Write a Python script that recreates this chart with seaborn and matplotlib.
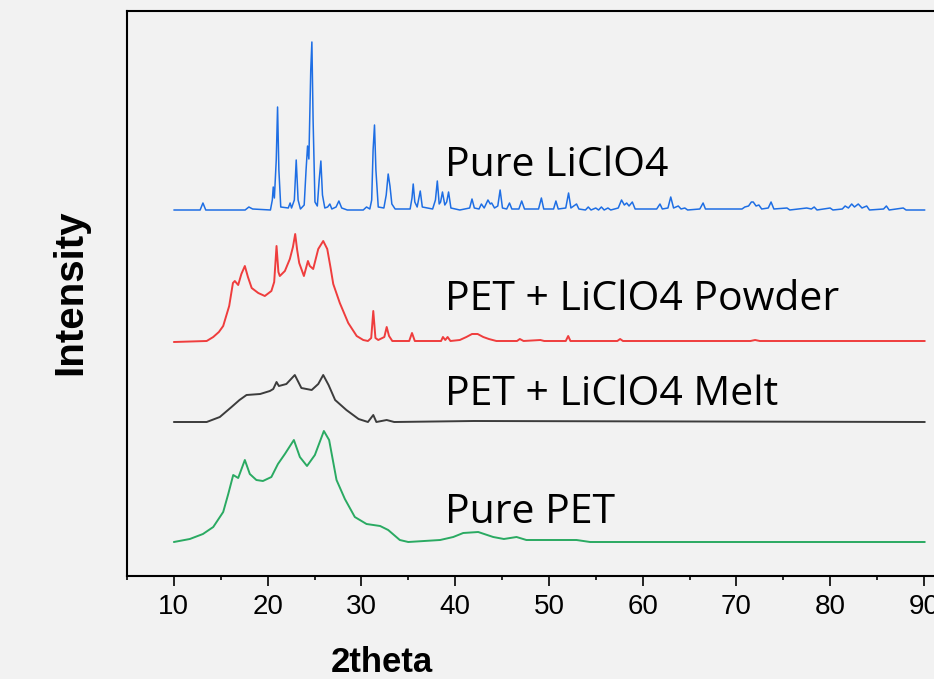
"""
plot.py - stacked XRD patterns (PET / LiClO4), offset traces.
"""

import matplotlib
matplotlib.use("Agg")
import matplotlib.pyplot as plt
import seaborn as sns
import pandas as pd

# ── Data (2theta, intensity above each trace's own baseline, a.u.) ───────────

LICLO4 = [
    (10.0, 0), (12.8, 0), (13.1, 7), (13.4, 0), (17.6, 0), (18.0, 3), (18.4, 1),
    (20.3, 0), (20.5, 10), (20.6, 23), (20.72, 12), (20.92, 50), (21.06, 103),
    (21.2, 40), (21.4, 3), (22.2, 2), (22.4, 7), (22.55, 2), (22.85, 10),
    (23.05, 50), (23.25, 10), (23.5, 1), (23.9, 5), (24.1, 40), (24.26, 64),
    (24.4, 51), (24.6, 140), (24.72, 168), (24.85, 90), (25.05, 8), (25.3, 4),
    (25.5, 30), (25.68, 49), (25.85, 15), (26.1, 2), (26.4, 3), (26.64, 6),
    (26.85, 1), (27.3, 3), (27.6, 9), (27.9, 2), (28.5, 0), (30.2, 0),
    (30.55, 3), (30.9, 1), (31.1, 10), (31.25, 60), (31.4, 85), (31.55, 40),
    (31.8, 3), (32.4, 2), (32.65, 15), (32.86, 36), (33.05, 24), (33.25, 6),
    (33.6, 1), (35.2, 1), (35.4, 12), (35.53, 26), (35.7, 8), (35.95, 3),
    (36.28, 19), (36.5, 3), (37.6, 1), (37.9, 10), (38.1, 29), (38.3, 6),
    (38.45, 8), (38.65, 18), (38.9, 5), (39.1, 8), (39.3, 18), (39.55, 2),
    (40.5, 0), (41.55, 2), (41.8, 11), (42.05, 2), (42.55, 1), (42.8, 6),
    (43.1, 2), (43.5, 10), (43.75, 6), (43.9, 7), (44.2, 2), (44.55, 4),
    (44.8, 20), (45.05, 2), (45.5, 1), (45.8, 7), (46.05, 1), (46.8, 1),
    (47.1, 9), (47.4, 1), (48.9, 1), (49.2, 12), (49.45, 1), (50.5, 1),
    (50.75, 9), (51.0, 1), (51.8, 2), (52.1, 17), (52.35, 2), (52.95, 6),
    (53.2, 1), (53.9, 0), (54.2, 3), (54.5, 0), (55.0, 2), (55.3, 0),
    (55.6, 3), (55.9, 0), (56.3, 2), (56.6, 0), (57.4, 2), (57.75, 10),
    (58.05, 5), (58.3, 7), (58.55, 4), (58.9, 8), (59.2, 1), (61.5, 1),
    (61.85, 6), (62.1, 1), (62.7, 2), (63.0, 13), (63.3, 2), (63.8, 4),
    (64.1, 1), (64.5, 2), (64.8, 0), (66.1, 1), (66.45, 7), (66.7, 1),
    (70.6, 1), (70.9, 3), (71.3, 4), (71.6, 8), (71.8, 8), (72.1, 4),
    (72.4, 5), (72.7, 1), (73.4, 2), (73.7, 8), (74.0, 1), (75.4, 2),
    (75.7, 0), (77.5, 2), (78.0, 1), (78.3, 3), (78.6, 0), (80.0, 2),
    (80.3, 0), (81.3, 1), (81.6, 4), (81.95, 2), (82.3, 6), (82.6, 3),
    (83.0, 6), (83.4, 2), (83.9, 4), (84.2, 0), (85.7, 1), (86.0, 4),
    (86.3, 0), (87.8, 2), (88.1, 0), (90.1, 0),
]

PET_POWDER = [
    (10.0, 0), (13.5, 1), (14.2, 5), (14.8, 10), (15.26, 16), (15.9, 36),
    (16.3, 59), (16.5, 61), (16.86, 57), (17.2, 68), (17.57, 76), (17.9, 65),
    (18.3, 54), (19.0, 49), (19.7, 46), (20.4, 51), (20.7, 60), (20.95, 96),
    (21.15, 70), (21.3, 66), (21.84, 71), (22.37, 83), (22.7, 95),
    (22.94, 108), (23.15, 92), (23.37, 79), (23.87, 66), (24.1, 74),
    (24.3, 81), (24.5, 76), (24.86, 73), (25.4, 93), (25.93, 101),
    (26.36, 93), (26.7, 75), (27.0, 58), (27.7, 39), (28.6, 19), (29.5, 6),
    (30.2, 2), (30.7, 1), (31.05, 4), (31.27, 31), (31.5, 4), (31.8, 2),
    (32.45, 5), (32.7, 15), (32.95, 6), (33.3, 1), (35.1, 1), (35.4, 9),
    (35.7, 1), (38.5, 1), (38.7, 5), (38.95, 2), (39.2, 5), (39.5, 1),
    (40.5, 2), (41.2, 5), (41.8, 8), (42.4, 8), (43.0, 5), (43.6, 3),
    (44.4, 1), (46.6, 1), (46.9, 3), (47.3, 1), (49.1, 2), (49.5, 1),
    (51.8, 1), (52.06, 6), (52.3, 1), (57.3, 1), (57.6, 3), (57.9, 1),
    (71.5, 1), (72.0, 2), (72.5, 1), (90.1, 1),
]

PET_MELT = [
    (10.0, 0), (13.5, 0), (14.9, 5), (16.15, 15), (17.0, 22), (17.75, 27),
    (19.2, 28), (20.24, 31), (20.6, 33), (20.95, 40), (21.2, 36), (22.0, 38),
    (22.9, 47), (23.6, 34), (24.7, 32), (25.4, 38), (25.93, 47), (26.5, 37),
    (27.2, 22), (28.4, 12), (29.7, 3), (30.7, 0), (31.27, 7), (31.6, 0),
    (32.7, 2), (33.5, 0), (42.0, 1), (90.1, 0),
]

PURE_PET = [
    (10.0, 0), (11.7, 3), (13.1, 8), (14.2, 15), (15.26, 30), (15.8, 48),
    (16.33, 67), (16.86, 64), (17.57, 82), (18.1, 68), (18.8, 62), (19.5, 61),
    (20.4, 65), (21.1, 78), (21.84, 88), (22.8, 102), (23.44, 85),
    (24.2, 76), (25.04, 87), (26.0, 111), (26.56, 102), (27.35, 62),
    (28.24, 43), (29.3, 25), (30.55, 18), (32.0, 16), (32.86, 12), (34.1, 2),
    (35.0, 0), (38.4, 2), (39.8, 5), (40.86, 9), (42.46, 10), (44.06, 5),
    (45.2, 3), (46.55, 5), (47.6, 2), (49.76, 2), (52.95, 2), (54.4, 0),
    (90.1, 0),
]

SAMPLES = ["Pure LiClO4", "PET + LiClO4 Powder", "PET + LiClO4 Melt", "Pure PET"]
TRACES = [LICLO4, PET_POWDER, PET_MELT, PURE_PET]
XTICKS = [10, 20, 30, 40, 50, 60, 70, 80, 90]

# ── Style ────────────────────────────────────────────────────────────────────

OFFSETS = [366, 234, 154, 34]          # vertical stacking of the traces
COLORS = ["#1e6ee4", "#ef3d3d", "#3c3c3c", "#2aaa62"]
WIDTHS = [1.1, 1.4, 1.4, 1.4]
LABEL_Y = [400, 266, 171, 53]
LABEL_X = 38.9
BG = "#f2f2f2"
AX_FONT = ["Liberation Sans", "DejaVu Sans"]

sns.set_style("ticks")
plt.rcParams["font.family"] = AX_FONT
plt.rcParams["text.color"] = "black"
plt.rcParams["xtick.color"] = "black"
plt.rcParams["axes.labelcolor"] = "black"

rows = []
for name, trace, off in zip(SAMPLES, TRACES, OFFSETS):
    for tt, inten in trace:
        rows.append({"sample": name, "2theta": tt, "intensity": inten + off})
df = pd.DataFrame(rows)

fig = plt.figure(figsize=(9.34, 6.79), dpi=100, facecolor=BG)
ax = fig.add_axes([127 / 934, 103 / 679, 843.75 / 934, 565 / 679])
ax.set_facecolor(BG)

for name, color, lw in zip(SAMPLES, COLORS, WIDTHS):
    sub = df[df["sample"] == name]
    sns.lineplot(data=sub, x="2theta", y="intensity", color=color,
                 linewidth=lw, estimator=None, sort=True, ax=ax)

for name, y in zip(SAMPLES, LABEL_Y):
    ax.text(LABEL_X, y, name, fontsize=29.5, family=["Open Sans", "DejaVu Sans"],
            ha="left", va="baseline", color="black")

ax.set_xlim(5, 95)
ax.set_ylim(0, 565)
ax.set_xticks(XTICKS)
ax.set_xticks([5, 15, 25, 35, 45, 55, 65, 75, 85], minor=True)
ax.set_yticks([])
ax.tick_params(axis="x", which="major", length=7, width=1.2, pad=6,
               labelsize=20, labelcolor="black", direction="out")
ax.tick_params(axis="x", which="minor", length=3, width=1.2, direction="out")
for sp in ax.spines.values():
    sp.set_linewidth(1.5)
    sp.set_color("black")
ax.set_xlabel("")
ax.set_ylabel("")

fig.text(382 / 934, 7 / 679, "2theta", fontsize=25, fontweight="bold",
         ha="center", va="baseline", color="black")
fig.text(81 / 934, (679 - 292.5) / 679, "Intensity", fontsize=29,
         fontweight="bold", rotation=90, rotation_mode="anchor",
         ha="center", va="baseline", color="black")

fig.savefig("out.png", dpi=100, facecolor=BG)
